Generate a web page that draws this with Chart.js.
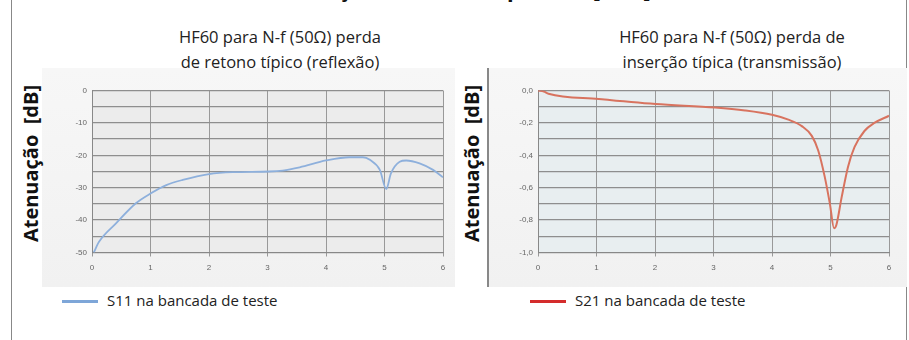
<!DOCTYPE html>
<html>
<head>
<meta charset="utf-8">
<script src="https://cdn.jsdelivr.net/npm/chart.js@4.4.1/dist/chart.umd.min.js"></script>
<style>
  body { margin: 0; width: 909px; height: 340px; background: #fff; position: relative; overflow: hidden; font-family: "Open Sans", sans-serif; }
  .abs { position: absolute; }
  .frame { left: 11px; top: -2px; width: 894px; height: 360px; border-left: 1px solid #888; border-right: 1px solid #888; }
  .head { left: 0; width: 909px; top: -27px; text-align: center; font-weight: bold; font-size: 22px; color: #111; }
  .panel { top: 68px; height: 219px; background: linear-gradient(#f7f7f7, #f1f1f1); }
  .ttl { font-size: 16.5px; color: #222; text-align: center; line-height: 25px; }
  .ylab { font-weight: bold; font-size: 20px; color: #111; transform: rotate(-90deg); transform-origin: center; white-space: pre; width: 170px; text-align: center; }
  .leg { font-size: 15px; color: #222; top: 290px; }
  .leg span { display: inline-block; width: 36px; height: 3px; vertical-align: middle; margin-right: 9px; }
  canvas { position: absolute; }
</style>
</head>
<body>
<div class="abs frame"></div>
<div class="abs head">Atenuação sobre a frequência [GHz]</div>

<div class="abs panel" style="left:42px;width:413px"></div>
<div class="abs panel" style="left:487px;width:418px;border-left:2px solid #888"></div>

<div class="abs ttl" style="left:130px;width:300px;top:24px">HF60 para N-f (50Ω) perda<br>de retono típico (reflexão)</div>
<div class="abs ttl" style="left:582px;width:300px;top:24px">HF60 para N-f (50Ω) perda de<br>inserção típica (transmissão)</div>

<div class="abs ylab" style="left:-55px;top:150px">Atenuação  [dB]</div>
<div class="abs ylab" style="left:386px;top:150px">Atenuação  [dB]</div>

<div class="abs leg" style="left:62px"><span style="background:#7ea6d8"></span>S11 na bancada de teste</div>
<div class="abs leg" style="left:530px"><span style="background:#d42c2c"></span>S21 na bancada de teste</div>

<canvas id="s11Chart" style="left:60px;top:80px" width="400" height="195"></canvas>
<canvas id="s21Chart" style="left:500px;top:80px" width="400" height="195"></canvas>

<script>
// S11 return loss (dB) vs frequency (GHz)
const freqS11 = [0.03, 0.12, 0.41, 0.75, 1.0, 1.27, 1.55, 2.0, 2.4, 3.03, 3.26, 3.55, 4.0, 4.4, 4.63, 4.75, 4.92, 5.03, 5.11, 5.26, 5.37, 5.6, 5.83, 6.0];
const s11 = [-50, -46.7, -41, -34.8, -31.8, -29.2, -27.6, -25.8, -25.2, -25, -24.7, -23.7, -21.6, -20.6, -20.6, -21.4, -24.5, -30.4, -25.6, -22, -21.6, -22.5, -24.5, -26.8];

// S21 insertion loss (dB) vs frequency (GHz)
const freqS21 = [0, 0.1, 0.18, 1.04, 2.01, 3.03, 3.54, 4.0, 4.28, 4.51, 4.68, 4.79, 4.9, 4.99, 5.06, 5.1, 5.19, 5.3, 5.41, 5.58, 5.75, 6.0];
const s21 = [0, -0.006, -0.02, -0.053, -0.084, -0.105, -0.123, -0.15, -0.18, -0.22, -0.28, -0.37, -0.53, -0.70, -0.85, -0.83, -0.66, -0.47, -0.35, -0.25, -0.20, -0.156];

const xTicks = [0, 1, 2, 3, 4, 5, 6];

/* plot area background */
const plotBg = {
  id: "plotBg",
  beforeDraw(chart, args, opts) {
    const a = chart.chartArea;
    const ctx = chart.ctx;
    ctx.save();
    ctx.fillStyle = opts.color;
    ctx.fillRect(a.left, a.top, a.right - a.left, a.bottom - a.top);
    ctx.restore();
  }
};

function points(xs, ys) {
  return xs.map((x, i) => ({ x, y: ys[i] }));
}

function buildOptions(yMin, yStep, labelEvery, fmt, yWidth, padRight, bg) {
  return {
    responsive: false,
    animation: false,
    layout: { padding: { top: 10.5, right: padRight, bottom: 0, left: 0 } },
    plugins: {
      legend: { display: false },
      tooltip: { enabled: false },
      plotBg: { color: bg }
    },
    scales: {
      x: {
        type: "linear",
        min: 0, max: 6,
        afterFit(s) { s.height = 22.5; },
        afterBuildTicks(s) { s.ticks = xTicks.map(v => ({ value: v })); },
        ticks: { color: "#666", font: { size: 8, family: "Arial" }, padding: 6 },
        grid: { color: "#999", lineWidth: 1, drawTicks: true, tickLength: 4 },
        border: { color: "#888" }
      },
      y: {
        min: yMin, max: 0,
        afterFit(s) { s.width = yWidth; },
        ticks: {
          stepSize: yStep,
          color: "#666",
          font: { size: 8, family: "Arial" },
          padding: 5,
          callback: v => (Math.round(v / yStep) % labelEvery === 0 ? fmt(v) : "")
        },
        grid: { color: "#8e8e8e", lineWidth: 1.3, drawTicks: false },
        border: { color: "#888" }
      }
    }
  };
}

new Chart(document.getElementById("s11Chart"), {
  type: "line",
  data: {
    datasets: [{
      label: "S11 na bancada de teste",
      data: points(freqS11, s11),
      borderColor: "#8eb0dc",
      borderWidth: 1.8,
      pointRadius: 0,
      cubicInterpolationMode: "monotone",
      fill: false
    }]
  },
  options: buildOptions(-50, 5, 2, v => String(Math.round(v)), 32, 17, "#ececec"),
  plugins: [plotBg]
});

new Chart(document.getElementById("s21Chart"), {
  type: "line",
  data: {
    datasets: [{
      label: "S21 na bancada de teste",
      data: points(freqS21, s21),
      borderColor: "#d8735f",
      borderWidth: 2,
      pointRadius: 0,
      cubicInterpolationMode: "monotone",
      fill: false
    }]
  },
  options: buildOptions(-1, 0.1, 2, v => v.toFixed(1).replace("-0.0", "0.0").replace(".", ","), 38, 11, "#e8eef0"),
  plugins: [plotBg]
});
</script>
</body>
</html>
